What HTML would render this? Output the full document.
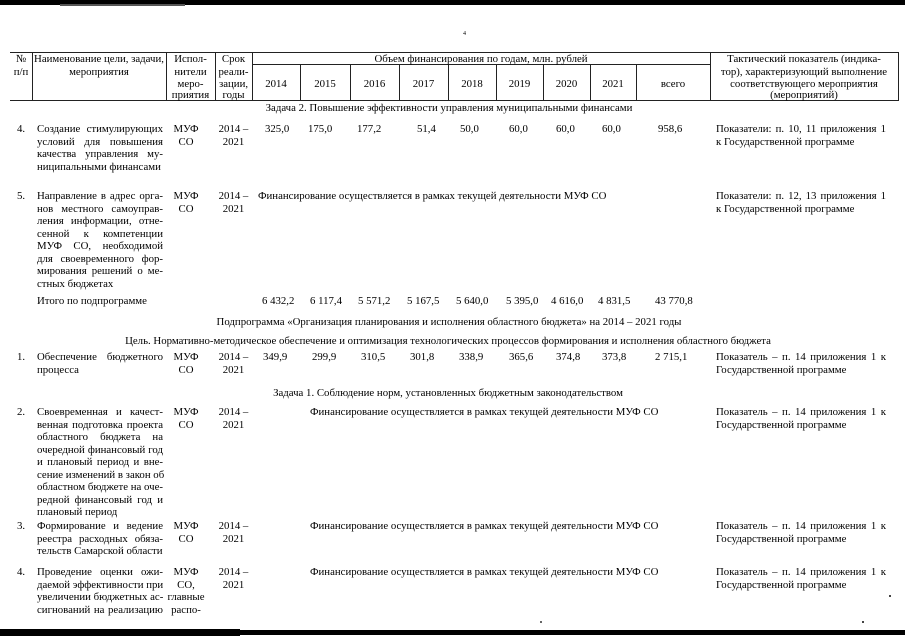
<!DOCTYPE html>
<html><head><meta charset="utf-8">
<style>
html,body{margin:0;padding:0;background:#fff;}
body{width:905px;height:640px;position:relative;overflow:hidden;font-family:"Liberation Serif","Noto Serif CJK SC",serif;color:#000;font-size:10.8px;}
.t{position:absolute;white-space:nowrap;line-height:12px;}
.c{text-align:center;}
.b{position:absolute;line-height:12.5px;}
.b div{white-space:nowrap;height:12.5px;}
.j{text-align:justify;text-align-last:justify;}
.hl{position:absolute;height:1px;background:#222;}
.vl{position:absolute;width:1px;background:#222;}
</style></head><body>
<!-- top / bottom scan bars -->
<div style="position:absolute;left:0;top:0;width:905px;height:5px;background:#000"></div>
<div style="position:absolute;left:60px;top:4px;width:125px;height:2px;background:#555"></div>
<div style="position:absolute;left:0;top:630px;width:905px;height:5px;background:#000"></div>
<div style="position:absolute;left:0;top:629px;width:240px;height:7px;background:#000"></div>
<div class="t" style="left:463px;top:31px;font-size:6px;line-height:6px">4</div>
<div style="position:absolute;left:889px;top:595px;width:2px;height:2px;background:#444"></div>
<div style="position:absolute;left:862px;top:621px;width:2px;height:2px;background:#444"></div>
<div style="position:absolute;left:540px;top:621px;width:2px;height:2px;background:#666"></div>

<!-- header grid -->
<div class="hl" style="left:10px;top:52px;width:889px"></div>
<div class="hl" style="left:252px;top:64px;width:458px"></div>
<div class="hl" style="left:10px;top:100px;width:889px"></div>
<div class="vl" style="left:32px;top:52px;height:49px"></div>
<div class="vl" style="left:166px;top:52px;height:49px"></div>
<div class="vl" style="left:215px;top:52px;height:49px"></div>
<div class="vl" style="left:252px;top:52px;height:49px"></div>
<div class="vl" style="left:710px;top:52px;height:49px"></div>
<div class="vl" style="left:898px;top:52px;height:49px"></div>
<div class="vl" style="left:300px;top:64px;height:37px"></div>
<div class="vl" style="left:350px;top:64px;height:37px"></div>
<div class="vl" style="left:399px;top:64px;height:37px"></div>
<div class="vl" style="left:448px;top:64px;height:37px"></div>
<div class="vl" style="left:496px;top:64px;height:37px"></div>
<div class="vl" style="left:543px;top:64px;height:37px"></div>
<div class="vl" style="left:590px;top:64px;height:37px"></div>
<div class="vl" style="left:636px;top:64px;height:37px"></div>

<!-- header text -->
<div class="t c" style="left:10px;width:22px;top:53px">№</div>
<div class="t c" style="left:10px;width:22px;top:65.5px">п/п</div>
<div class="t c" style="left:32px;width:134px;top:53px">Наименование цели, задачи,</div>
<div class="t c" style="left:32px;width:134px;top:65.5px">мероприятия</div>
<div class="t c" style="left:166px;width:49px;top:53px">Испол-</div>
<div class="t c" style="left:166px;width:49px;top:65.5px">нители</div>
<div class="t c" style="left:166px;width:49px;top:77.5px">меро-</div>
<div class="t c" style="left:166px;width:49px;top:89px">приятия</div>
<div class="t c" style="left:215px;width:37px;top:53px">Срок</div>
<div class="t c" style="left:215px;width:37px;top:65.5px">реали-</div>
<div class="t c" style="left:215px;width:37px;top:77.5px">зации,</div>
<div class="t c" style="left:215px;width:37px;top:89px">годы</div>
<div class="t c" style="left:252px;width:458px;top:53px">Объем финансирования по годам, млн. рублей</div>
<div class="t c" style="left:252px;width:48px;top:77.5px">2014</div>
<div class="t c" style="left:300px;width:50px;top:77.5px">2015</div>
<div class="t c" style="left:350px;width:49px;top:77.5px">2016</div>
<div class="t c" style="left:399px;width:49px;top:77.5px">2017</div>
<div class="t c" style="left:448px;width:48px;top:77.5px">2018</div>
<div class="t c" style="left:496px;width:47px;top:77.5px">2019</div>
<div class="t c" style="left:543px;width:47px;top:77.5px">2020</div>
<div class="t c" style="left:590px;width:46px;top:77.5px">2021</div>
<div class="t c" style="left:636px;width:74px;top:77.5px">всего</div>
<div class="t c" style="left:710px;width:188px;top:53px">Тактический показатель (индика-</div>
<div class="t c" style="left:710px;width:188px;top:65.5px">тор), характеризующий выполнение</div>
<div class="t c" style="left:710px;width:188px;top:77.5px">соответствующего мероприятия</div>
<div class="t c" style="left:710px;width:188px;top:89px">(мероприятий)</div>

<!-- Задача 2 -->
<div class="t c" style="left:0;width:898px;top:101.5px">Задача 2. Повышение эффективности управления муниципальными финансами</div>

<!-- Row 4 -->
<div class="t" style="left:17px;top:123px">4.</div>
<div class="b" style="left:37px;top:123px;width:126px">
<div class="j">Создание стимулирующих</div>
<div class="j">условий для повышения</div>
<div class="j">качества управления му-</div>
<div>ниципальными финансами</div>
</div>
<div class="b c" style="left:166px;top:123px;width:40px"><div>МУФ</div><div>СО</div></div>
<div class="b c" style="left:215px;top:123px;width:37px"><div>2014 –</div><div>2021</div></div>
<div class="t" style="left:265px;top:123px">325,0</div>
<div class="t" style="left:308px;top:123px">175,0</div>
<div class="t" style="left:357px;top:123px">177,2</div>
<div class="t" style="left:417px;top:123px">51,4</div>
<div class="t" style="left:460px;top:123px">50,0</div>
<div class="t" style="left:509px;top:123px">60,0</div>
<div class="t" style="left:556px;top:123px">60,0</div>
<div class="t" style="left:602px;top:123px">60,0</div>
<div class="t" style="left:658px;top:123px">958,6</div>
<div class="b" style="left:716px;top:123px;width:170px">
<div class="j">Показатели: п. 10, 11 приложения 1</div>
<div>к Государственной программе</div>
</div>

<!-- Row 5 -->
<div class="t" style="left:17px;top:190px">5.</div>
<div class="b" style="left:37px;top:190px;width:126px">
<div class="j">Направление в адрес орга-</div>
<div class="j">нов местного самоуправ-</div>
<div class="j">ления информации, отне-</div>
<div class="j">сенной к компетенции</div>
<div class="j">МУФ СО, необходимой</div>
<div class="j">для своевременного фор-</div>
<div class="j">мирования решений о ме-</div>
<div>стных бюджетах</div>
</div>
<div class="b c" style="left:166px;top:190px;width:40px"><div>МУФ</div><div>СО</div></div>
<div class="b c" style="left:215px;top:190px;width:37px"><div>2014 –</div><div>2021</div></div>
<div class="t" style="left:258px;top:190px">Финансирование осуществляется в рамках текущей деятельности МУФ СО</div>
<div class="b" style="left:716px;top:190px;width:170px">
<div class="j">Показатели: п. 12, 13 приложения 1</div>
<div>к Государственной программе</div>
</div>

<!-- Итого -->
<div class="t" style="left:37px;top:295px">Итого по подпрограмме</div>
<div class="t" style="left:262px;top:295px">6 432,2</div>
<div class="t" style="left:310px;top:295px">6 117,4</div>
<div class="t" style="left:358px;top:295px">5 571,2</div>
<div class="t" style="left:407px;top:295px">5 167,5</div>
<div class="t" style="left:456px;top:295px">5 640,0</div>
<div class="t" style="left:506px;top:295px">5 395,0</div>
<div class="t" style="left:551px;top:295px">4 616,0</div>
<div class="t" style="left:598px;top:295px">4 831,5</div>
<div class="t" style="left:655px;top:295px">43 770,8</div>

<div class="t c" style="left:0;width:898px;top:316px">Подпрограмма «Организация планирования и исполнения областного бюджета» на 2014 – 2021 годы</div>
<div class="t c" style="left:0;width:896px;top:335px">Цель. Нормативно-методическое обеспечение и оптимизация технологических процессов формирования и исполнения областного бюджета</div>

<!-- Row 1 -->
<div class="t" style="left:17px;top:351px">1.</div>
<div class="b" style="left:37px;top:351px;width:126px">
<div class="j">Обеспечение бюджетного</div>
<div>процесса</div>
</div>
<div class="b c" style="left:166px;top:351px;width:40px"><div>МУФ</div><div>СО</div></div>
<div class="b c" style="left:215px;top:351px;width:37px"><div>2014 –</div><div>2021</div></div>
<div class="t" style="left:263px;top:351px">349,9</div>
<div class="t" style="left:312px;top:351px">299,9</div>
<div class="t" style="left:361px;top:351px">310,5</div>
<div class="t" style="left:410px;top:351px">301,8</div>
<div class="t" style="left:459px;top:351px">338,9</div>
<div class="t" style="left:509px;top:351px">365,6</div>
<div class="t" style="left:556px;top:351px">374,8</div>
<div class="t" style="left:602px;top:351px">373,8</div>
<div class="t" style="left:655px;top:351px">2 715,1</div>
<div class="b" style="left:716px;top:351px;width:170px">
<div class="j">Показатель – п. 14 приложения 1 к</div>
<div>Государственной программе</div>
</div>

<div class="t c" style="left:0;width:896px;top:387px">Задача 1. Соблюдение норм, установленных бюджетным законодательством</div>

<!-- Row 2 -->
<div class="t" style="left:17px;top:406px">2.</div>
<div class="b" style="left:37px;top:406px;width:126px">
<div class="j">Своевременная и качест-</div>
<div class="j">венная подготовка проекта</div>
<div class="j">областного бюджета на</div>
<div class="j">очередной финансовый год</div>
<div class="j">и плановый период и вне-</div>
<div class="j">сение изменений в закон об</div>
<div class="j">областном бюджете на оче-</div>
<div class="j">редной финансовый год и</div>
<div>плановый период</div>
</div>
<div class="b c" style="left:166px;top:406px;width:40px"><div>МУФ</div><div>СО</div></div>
<div class="b c" style="left:215px;top:406px;width:37px"><div>2014 –</div><div>2021</div></div>
<div class="t" style="left:310px;top:406px">Финансирование осуществляется в рамках текущей деятельности МУФ СО</div>
<div class="b" style="left:716px;top:406px;width:170px">
<div class="j">Показатель – п. 14 приложения 1 к</div>
<div>Государственной программе</div>
</div>

<!-- Row 3 -->
<div class="t" style="left:17px;top:520px">3.</div>
<div class="b" style="left:37px;top:520px;width:126px">
<div class="j">Формирование и ведение</div>
<div class="j">реестра расходных обяза-</div>
<div>тельств Самарской области</div>
</div>
<div class="b c" style="left:166px;top:520px;width:40px"><div>МУФ</div><div>СО</div></div>
<div class="b c" style="left:215px;top:520px;width:37px"><div>2014 –</div><div>2021</div></div>
<div class="t" style="left:310px;top:520px">Финансирование осуществляется в рамках текущей деятельности МУФ СО</div>
<div class="b" style="left:716px;top:520px;width:170px">
<div class="j">Показатель – п. 14 приложения 1 к</div>
<div>Государственной программе</div>
</div>

<!-- Row 4 (second) -->
<div class="t" style="left:17px;top:566px">4.</div>
<div class="b" style="left:37px;top:566px;width:126px">
<div class="j">Проведение оценки ожи-</div>
<div class="j">даемой эффективности при</div>
<div class="j">увеличении бюджетных ас-</div>
<div class="j">сигнований на реализацию</div>
</div>
<div class="b c" style="left:166px;top:566px;width:40px"><div>МУФ</div><div>СО,</div><div>главные</div><div>распо-</div></div>
<div class="b c" style="left:215px;top:566px;width:37px"><div>2014 –</div><div>2021</div></div>
<div class="t" style="left:310px;top:566px">Финансирование осуществляется в рамках текущей деятельности МУФ СО</div>
<div class="b" style="left:716px;top:566px;width:170px">
<div class="j">Показатель – п. 14 приложения 1 к</div>
<div>Государственной программе</div>
</div>
</body></html>
